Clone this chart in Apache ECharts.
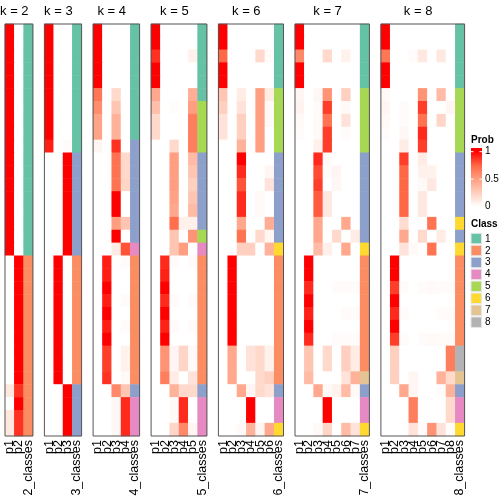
<!DOCTYPE html>
<html>
<head>
<meta charset="utf-8">
<script src="https://cdn.jsdelivr.net/npm/echarts@6/dist/echarts.min.js"></script>
<style>html,body{margin:0;padding:0;background:#fff;}#c{width:504px;height:504px;}</style>
</head>
<body>
<div id="c"></div>
<script>
// ---------------- data ----------------
const panelK = [2, 3, 4, 5, 6, 7, 8];
const classColors = ['#66C2A5', '#FC8D62', '#8DA0CB', '#E78AC3', '#A6D854', '#FFD92F', '#E5C494', '#B3B3B3'];
const classLabels = ['1', '2', '3', '4', '5', '6', '7', '8'];
const probTicks = ['1', '0.5', '0'];
const probTickValues = [1, 0.5, 0];

// membership probabilities, one row per sample (top to bottom), columns p1..pk
const prob_k2 = [
  [1,0],[1,0],[1,0],[1,0],[1,0],[1,0],[1,0],[1,0],[1,0],[1,0],
  [1,0],[1,0],[1,0],[1,0],[1,0],[1,0],[1,0],[1,0],
  [0,1],[0,1],[0,1],[0,1],[0,1],[0,1],[0,1],[0,1],[0,1],[0,1],
  [0.12,0.88],[0,1],[0.12,0.88],[0.12,0.88]
];
const class_k2 = [1,1,1,1,1,1,1,1,1,1,1,1,1,1,1,1,1,1,2,2,2,2,2,2,2,2,2,2,2,2,2,2];

const prob_k3 = [
  [1,0,0],[1,0,0],[1,0,0],[1,0,0],[1,0,0],[1,0,0],[1,0,0],[1,0,0],[1,0,0],
  [0.93,0,0.02],
  [0,0,1],[0,0,1],[0,0,1],[0,0,1],[0,0,1],[0,0,1],[0,0,1],[0,0,1],
  [0,1,0],[0,1,0],[0,1,0],[0,1,0],[0,1,0],[0,1,0],[0,1,0],[0,1,0],[0,1,0],[0,1,0],
  [0,0,1],[0,0,1],[0,0,1],[0,0,1]
];
const class_k3 = [1,1,1,1,1,1,1,1,1,1,3,3,3,3,3,3,3,3,2,2,2,2,2,2,2,2,2,2,3,3,3,3];

const prob_k4 = [
  [1,0,0,0],[1,0,0,0],[1,0,0,0],[1,0,0,0],[1,0,0,0],
  [0.68,0,0.2,0],[0.58,0,0.3,0],[0.47,0,0.4,0],[0.47,0,0.4,0],
  [0.05,0,0.88,0],
  [0,0,0.7,0.2],[0,0,0.7,0.2],[0,0,0.7,0.22],[0,0,1,0],[0,0,1,0],[0,0,0.5,0.3],[0,0,1,0],
  [0,0,0.1,0.8],
  [0,0.93,0,0.02],[0,0.93,0,0],[0,1,0,0],[0,0.93,0,0.02],[0,1,0,0],[0,0.93,0,0.02],[0,1,0,0],
  [0,0.85,0,0.07],[0,0.85,0,0.07],[0,0.88,0,0.03],
  [0,0,0.6,0.3],
  [0,0,0.04,0.9],[0,0,0.04,0.9],[0,0,0.04,0.9]
];
const class_k4 = [1,1,1,1,1,1,1,1,1,3,3,3,3,3,3,3,3,4,2,2,2,2,2,2,2,2,2,2,3,4,4,4];

const prob_k5 = [
  [1,0,0,0,0],[1,0,0,0,0],[0.88,0,0,0,0.07],[1,0,0,0,0],[1,0,0,0,0],
  [0.45,0,0,0,0.42],
  [0.33,0,0.01,0,0.5],[0.2,0,0,0,0.65],[0.2,0,0,0,0.65],[0,0,0.2,0,0.65],
  [0,0,0.5,0,0.35],[0,0,0.5,0,0.3],[0,0,0.5,0,0.25],[0,0,0.48,0,0.3],[0,0,0.45,0,0.35],
  [0,0,0.72,0.08,0.08],
  [0,0,0.3,0,0.55],
  [0,0,0.3,0.5,0],
  [0,0.9,0.02,0,0.02],[0,0.92,0,0,0],[0,1,0,0,0],[0,0.9,0.02,0,0.02],[0,1,0,0,0],[0,0.92,0.02,0,0.02],[0,1,0,0,0],
  [0,0.55,0.05,0.22,0.03],[0,0.55,0.05,0.22,0.03],[0,0.65,0.1,0,0.15],
  [0,0,0.4,0.2,0.2],
  [0,0,0.03,0.9,0],[0,0,0.03,0.9,0],[0,0,0.22,0.6,0.05]
];
const class_k5 = [1,1,1,1,1,1,5,5,5,5,3,3,3,3,3,3,5,4,2,2,2,2,2,2,2,2,2,2,3,4,4,4];

const prob_k6 = [
  [1,0,0,0,0,0],[1,0,0,0,0,0],[0.75,0,0,0,0.2,0.02],[1,0,0,0,0,0],[1,0,0,0,0,0],
  [0.3,0,0.1,0,0.5,0.1],[0.25,0,0.15,0,0.5,0.03],[0.15,0,0.25,0,0.5,0.03],[0.15,0,0.25,0,0.5,0],[0,0,0.4,0,0.5,0],
  [0,0,1,0,0,0],[0,0,0.9,0,0,0.05],[0,0,0.8,0,0,0.15],[0,0,0.9,0,0.03,0],[0,0,0.9,0,0.03,0],
  [0,0,0.45,0,0,0.42],[0,0,0.7,0,0.2,0.05],
  [0,0,0.25,0.25,0,0.4],
  [0,1,0,0,0,0],[0,1,0,0,0,0],[0,1,0,0,0,0],[0,1,0,0,0,0],[0,1,0,0,0,0],[0,1,0,0,0,0],[0,1,0,0,0,0],
  [0,0.45,0,0.15,0.2,0.07],[0,0.45,0,0.15,0.2,0.07],[0,0.45,0,0,0.2,0.25],
  [0,0,0.45,0.05,0.2,0.15],
  [0,0,0,1,0,0],[0,0,0,1,0,0],
  [0,0,0.03,0.4,0.05,0.45]
];
const class_k6 = [1,1,1,1,1,5,5,5,5,5,3,3,3,3,3,3,3,6,2,2,2,2,2,2,2,2,2,2,3,4,4,6];

const prob_k7 = [
  [1,0,0,0,0,0,0],[1,0,0,0,0,0,0],[0.6,0,0,0.2,0,0.07,0],[1,0,0,0,0,0,0],[1,0,0,0,0,0,0],
  [0.05,0,0.04,0.55,0,0.25,0],[0.06,0,0.02,0.85,0,0.03,0],[0.03,0,0.03,0.7,0,0.15,0],[0.02,0,0.03,0.85,0,0.02,0],[0,0,0.08,0.85,0,0,0],
  [0,0,0.9,0.03,0,0,0],[0,0,0.82,0.02,0.05,0,0],[0,0,0.85,0,0.04,0,0],[0,0,0.78,0.12,0,0,0],[0,0,0.78,0.12,0,0,0],
  [0,0,0.45,0,0,0.45,0],[0,0,0.45,0,0.2,0,0.1],
  [0,0,0.35,0.08,0,0.45,0],
  [0,1,0,0,0,0,0],[0,1,0,0,0,0,0],[0,0.9,0,0,0.02,0.02,0.02],[0,1,0,0,0,0,0],[0,0.92,0,0,0,0.02,0.02],[0,1,0,0,0,0,0],[0,0.9,0,0,0.02,0.02,0.02],
  [0,0.3,0,0.2,0,0.25,0.1],[0,0.3,0,0.2,0,0.25,0.1],[0,0.35,0,0,0,0.15,0.4],
  [0,0,0.45,0.03,0.07,0.35,0.03],
  [0,0,0,1,0,0,0],[0,0,0,1,0,0,0],
  [0,0,0.03,0.22,0,0.35,0.15]
];
const class_k7 = [1,1,1,1,1,5,5,5,5,5,3,3,3,3,3,3,3,6,2,2,2,2,2,2,2,2,2,7,3,4,4,6];

const prob_k8 = [
  [1,0,0,0,0,0,0,0],[1,0,0,0,0,0,0,0],[0.68,0,0,0.02,0.12,0,0.12,0],[1,0,0,0,0,0,0,0],[1,0,0,0,0,0,0,0],
  [0.03,0,0,0,0.55,0,0.35,0],[0.05,0,0.02,0,0.85,0,0,0.05],[0.03,0,0.02,0,0.7,0,0.22,0],[0.02,0,0.04,0,0.9,0,0,0],[0,0,0.1,0,0.85,0,0,0],
  [0,0,0.85,0,0.1,0,0,0],[0,0,0.75,0,0.07,0.07,0,0],[0,0,0.75,0,0.03,0.12,0,0],[0,0,0.75,0,0.12,0,0,0],[0,0,0.75,0,0.12,0,0,0],
  [0,0,0.18,0,0,0.7,0,0],
  [0,0,0.45,0,0.2,0,0.1,0],
  [0,0,0.15,0.03,0,0.7,0,0],
  [0,1,0,0,0,0,0,0],[0,1,0,0,0,0,0,0],[0,0.85,0.02,0,0.02,0.03,0.02,0.02],[0,1,0,0,0,0,0,0],[0,0.9,0.02,0,0,0,0.02,0.02],[0,1,0,0,0,0,0,0],[0,0.85,0.02,0,0.02,0.03,0.02,0.02],
  [0,0.25,0,0,0,0,0,0.65],[0,0.25,0,0,0,0,0,0.65],[0,0.25,0,0.05,0,0,0.4,0.2],
  [0,0,0.45,0.05,0,0,0.02,0.4],
  [0,0,0,0.65,0,0,0,0.2],[0,0,0,0.65,0,0,0,0.2],
  [0,0,0,0.15,0.02,0.55,0.15,0.01]
];
const class_k8 = [1,1,1,1,1,5,5,5,5,5,3,3,3,3,3,6,3,6,2,2,2,2,2,2,2,8,8,7,3,4,4,6];

const probs = [prob_k2, prob_k3, prob_k4, prob_k5, prob_k6, prob_k7, prob_k8];
const classes = [class_k2, class_k3, class_k4, class_k5, class_k6, class_k7, class_k8];

// ---------------- layout ----------------
const FONT = '"Liberation Sans", Arial, Helvetica, sans-serif';
const colW = 9.3, gap = 11.5, left0 = 5, top0 = 24, plotH = 412;
const probColors = ['#FFFFFF', '#FFCFBF', '#FF9E81', '#FF6846', '#FF0000'];

const grids = [], xAxes = [], yAxes = [], series = [], graphics = [];
const probIdx = [], classIdx = [];
const nRows = class_k2.length;
const rowCats = Array.from({length: nRows}, (_, i) => String(i));
let left = left0;
panelK.forEach((k, gi) => {
  const w = (k + 1) * colW;
  grids.push({left: left, top: top0, width: w, height: plotH, show: true,
    borderColor: '#555', borderWidth: 1, backgroundColor: 'transparent', z: 10, containLabel: false});
  const cats = [];
  for (let c = 1; c <= k; c++) cats.push('p' + c);
  cats.push(k + '_classes');
  xAxes.push({type: 'category', gridIndex: gi, data: cats, position: 'bottom',
    axisLine: {show: false}, axisTick: {show: false}, splitLine: {show: false},
    axisLabel: {rotate: 90, interval: 0, fontSize: 12.5, color: '#000', margin: 4, fontFamily: FONT}});
  yAxes.push({type: 'category', gridIndex: gi, data: rowCats, inverse: true, show: false});
  const pd = [];
  probs[gi].forEach((row, r) => row.forEach((v, c) => pd.push([c, r, v])));
  probIdx.push(series.length);
  series.push({type: 'heatmap', xAxisIndex: gi, yAxisIndex: gi, data: pd,
    itemStyle: {borderWidth: 0}, emphasis: {disabled: true}, silent: true, progressive: 0});
  const cd = classes[gi].map((v, r) => [k, r, v]);
  classIdx.push(series.length);
  series.push({type: 'heatmap', xAxisIndex: gi, yAxisIndex: gi, data: cd,
    itemStyle: {borderWidth: 0}, emphasis: {disabled: true}, silent: true, progressive: 0});
  // panel title centred over probability columns
  graphics.push({type: 'text', x: left + k * colW / 2, y: 11,
    style: {text: 'k = ' + k, fontSize: 13, fontFamily: FONT, fill: '#000',
      align: 'center', verticalAlign: 'middle', textAlign: 'center', textVerticalAlign: 'middle'}});
  left += w + gap;
});

// ---------------- legends ----------------
const lgX = 471, lgLabX = 485;
graphics.push({type: 'text', x: lgX, y: 140,
  style: {text: 'Prob', fontSize: 10, fontWeight: 'bold', fontFamily: FONT, fill: '#000',
    align: 'left', verticalAlign: 'middle', textAlign: 'left', textVerticalAlign: 'middle'}});
const barTop = 148, barH = 62, tTop = 151.7, tBot = 206.7;
const off = y => (y - barTop) / barH;
graphics.push({type: 'rect', shape: {x: lgX, y: barTop, width: 11, height: barH},
  style: {fill: new echarts.graphic.LinearGradient(0, 0, 0, 1, [
    {offset: 0, color: probColors[4]},
    {offset: off(tTop), color: probColors[4]},
    {offset: off(tTop + (tBot - tTop) * 0.25), color: probColors[3]},
    {offset: off(tTop + (tBot - tTop) * 0.5), color: probColors[2]},
    {offset: off(tTop + (tBot - tTop) * 0.75), color: probColors[1]},
    {offset: off(tBot), color: probColors[0]},
    {offset: 1, color: probColors[0]}
  ])}});
probTicks.forEach((t, i) => {
  const y = tTop + (1 - probTickValues[i]) * (tBot - tTop);
  graphics.push({type: 'line', shape: {x1: lgX, y1: y, x2: lgX + 2.5, y2: y}, style: {stroke: '#fff', lineWidth: 1}});
  graphics.push({type: 'line', shape: {x1: lgX + 8.5, y1: y, x2: lgX + 11, y2: y}, style: {stroke: '#fff', lineWidth: 1}});
  graphics.push({type: 'text', x: lgLabX, y: y,
    style: {text: t, fontSize: 10, fontFamily: FONT, fill: '#000',
      align: 'left', verticalAlign: 'middle', textAlign: 'left', textVerticalAlign: 'middle'}});
});
graphics.push({type: 'text', x: lgX, y: 224,
  style: {text: 'Class', fontSize: 10, fontWeight: 'bold', fontFamily: FONT, fill: '#000',
    align: 'left', verticalAlign: 'middle', textAlign: 'left', textVerticalAlign: 'middle'}});
classLabels.forEach((lab, i) => {
  const y = 233.3 + i * 11.95;
  graphics.push({type: 'rect', shape: {x: lgX, y: y, width: 10.5, height: 10.5},
    style: {fill: classColors[i], stroke: '#e6e6e6', lineWidth: 1}});
  graphics.push({type: 'text', x: lgLabX, y: y + 5.5,
    style: {text: lab, fontSize: 10, fontFamily: FONT, fill: '#000',
      align: 'left', verticalAlign: 'middle', textAlign: 'left', textVerticalAlign: 'middle'}});
});

const chart = echarts.init(document.getElementById('c'), null, {renderer: 'canvas'});
chart.setOption({
  animation: false,
  backgroundColor: '#fff',
  grid: grids,
  xAxis: xAxes,
  yAxis: yAxes,
  visualMap: [
    {type: 'continuous', min: 0, max: 1, show: false, seriesIndex: probIdx, dimension: 2,
      inRange: {color: probColors}},
    {type: 'piecewise', show: false, seriesIndex: classIdx, dimension: 2,
      pieces: classColors.map((c, i) => ({value: i + 1, color: c}))}
  ],
  series: series,
  graphic: graphics
});
</script>
</body>
</html>
